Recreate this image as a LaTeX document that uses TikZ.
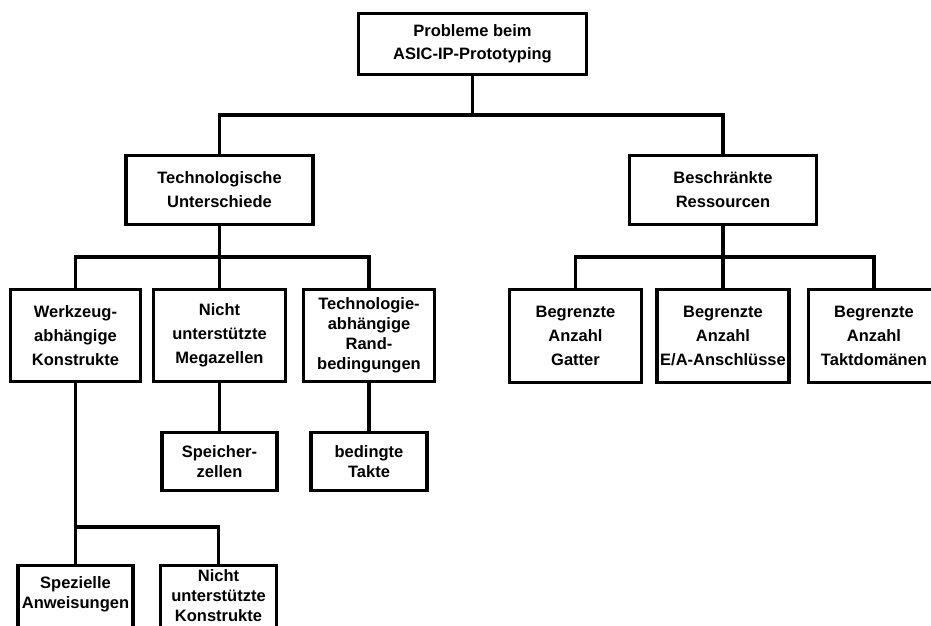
\documentclass[tikz,border=0pt]{standalone}
\usepackage{fontspec}
\setmainfont{Liberation Sans}
\begin{document}
\begin{tikzpicture}[x=1pt,y=-1pt,
  box/.style={draw, line width=3.2pt, fill=white, rectangle, inner sep=0pt,
    align=center, font=\bfseries\fontsize{16.5}{24}\selectfont},
  tight/.style={font=\bfseries\fontsize{16.5}{20}\selectfont},
  lbl/.style={inner sep=0pt, align=center, font=\bfseries\fontsize{16.5}{20}\selectfont},
  link/.style={line width=3.2pt}
]
\useasboundingbox (0,0) rectangle (931,626);
\clip (0,0) rectangle (931,626);

% levels of the tree
\coordinate (busA) at (0,115);
\coordinate (busB) at (0,257);
\coordinate (busC) at (0,527);

% root
\node[box, minimum width=228pt, minimum height=61pt,
  font=\bfseries\fontsize{16.5}{23}\selectfont] (root) at (472.5,44)
  {Probleme beim\\ASIC-IP-Prototyping};

% first level
\node[box, minimum width=187pt, minimum height=69pt] (tech) at (219.5,190)
  {Technologische\\Unterschiede};
\node[box, minimum width=187pt, minimum height=69pt] (besch) at (723,190)
  {Beschränkte\\Ressourcen};

% technological differences
\node[box, minimum width=130pt, minimum height=92pt] (werk) at (75.5,335.5)
  {Werkzeug-\\abhängige\\Konstrukte};
\node[box, minimum width=132pt, minimum height=92pt] (mega) at (219.5,335.5)
  {Nicht\\unterstützte\\Megazellen};
\node[box, tight, minimum width=131pt, minimum height=92pt] (tabh) at (369,335.5)
  {Technologie-\\abhängige\\Rand-\\bedingungen};

% limited resources
\node[box, minimum width=132pt, minimum height=93pt] (gatter) at (575.5,336)
  {Begrenzte\\Anzahl\\Gatter};
\node[box, minimum width=132pt, minimum height=93pt] (ea) at (723,336)
  {Begrenzte\\Anzahl\\E/A-Anschlüsse};
\node[box, minimum width=131pt, minimum height=93pt] (takt) at (874,336)
  {Begrenzte\\Anzahl\\Taktdomänen};

% second level below the technological differences
\node[box, tight, minimum width=115pt, minimum height=58pt] (speicher) at (219.5,461.5)
  {Speicher-\\zellen};
\node[box, tight, minimum width=116pt, minimum height=58pt] (takte) at (369,461.5)
  {bedingte\\Takte};

% tool-dependent constructs, boxes run past the lower edge
\node[box, minimum width=115pt, minimum height=80pt, anchor=north] (spezbox) at (75.5,563.5) {};
\node[box, minimum width=116pt, minimum height=80pt, anchor=north] (nukbox) at (218.5,564) {};
\node[lbl] (spez) at (75.5,594) {Spezielle\\Anweisungen};
\node[lbl] (nuk) at (218.5,595.5) {Nicht\\unterstützte\\Konstrukte};

% connectors
\draw[link] (root.south) -- (root.south |- busA);
\draw[link] (tech.north) |- (besch.north |- busA) -- (besch.north);

\draw[link] (tech.south) -- (tech.south |- busB);
\draw[link] (werk.north) |- (tabh.north |- busB) -- (tabh.north);
\draw[link] (mega.north) -- (mega.north |- busB);

\draw[link] (besch.south) -- (besch.south |- busB);
\draw[link] (gatter.north) |- (takt.north |- busB) -- (takt.north);
\draw[link] (ea.north) -- (ea.north |- busB);

\draw[link] (mega.south) -- (speicher.north);
\draw[link] (tabh.south) -- (takte.north);

\draw[link] (werk.south) -- (werk.south |- busC);
\draw[link] (spezbox.north) |- (nukbox.north |- busC) -- (nukbox.north);
\end{tikzpicture}
\end{document}
